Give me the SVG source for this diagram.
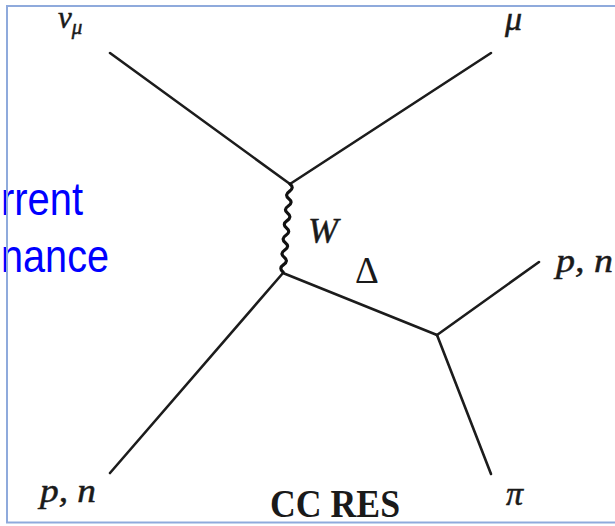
<svg xmlns="http://www.w3.org/2000/svg" width="615" height="526" viewBox="0 0 615 526">
<style>
.ln{stroke:#1c1c1c;stroke-width:2.6;fill:none;stroke-linecap:round}
.wv{stroke:#111;stroke-width:3.2;fill:none;stroke-linecap:round}
.lbl{font-family:"Liberation Serif","DejaVu Serif",serif;font-style:italic;fill:#1a1a1a;stroke:#1a1a1a;stroke-width:0.5}
.up{font-family:"Liberation Serif","DejaVu Serif",serif;fill:#1a1a1a}
.blue{font-family:"Liberation Sans",Arial,sans-serif;font-size:46px;fill:#0000FF}
</style>
<rect x="0" y="0" width="615" height="526" fill="#ffffff"/>
<g id="side-text">
<text class="blue" x="1" y="215" textLength="82" lengthAdjust="spacingAndGlyphs">rrent</text>
<text class="blue" x="1" y="272" textLength="108" lengthAdjust="spacingAndGlyphs">nance</text>
</g>
<g id="title"><text class="up" x="270" y="517" font-size="40" font-weight="bold" textLength="130" lengthAdjust="spacingAndGlyphs">CC RES</text></g>
<rect id="frame" x="7" y="6" width="620" height="516.5" fill="none" stroke="#8FAADC" stroke-width="2"/>
<g id="connectors">
<line class="ln" x1="110" y1="53" x2="290" y2="184"/>
<line class="ln" x1="491" y1="53" x2="290" y2="184"/>
<line class="ln" x1="110" y1="473" x2="283" y2="273"/>
<line class="ln" x1="283" y1="273" x2="437" y2="335"/>
<line class="ln" x1="437" y1="335" x2="539" y2="262"/>
<line class="ln" x1="437" y1="335" x2="491" y2="474"/>
<path class="wv" d="M290,184 q4.7,3.67 -0.58,7.33 t-0.58,7.33 t-0.58,7.33 t-0.58,7.33 t-0.58,7.33 t-0.58,7.33 t-0.58,7.33 t-0.58,7.33 t-0.58,7.33 t-0.58,7.33 t-0.58,7.33 t-0.58,7.33"/>
</g>
<g id="nu-mu"><text class="lbl" x="58" y="28" font-size="31">ν<tspan font-size="21" dy="6">μ</tspan></text></g>
<g id="mu"><text class="lbl" x="505" y="30" font-size="34">μ</text></g>
<g id="pn-out"><text class="lbl" x="556" y="272" font-size="34" textLength="57" lengthAdjust="spacingAndGlyphs">p, n</text></g>
<g id="pn-in"><text class="lbl" x="40" y="502" font-size="33" textLength="56" lengthAdjust="spacingAndGlyphs">p, n</text></g>
<g id="pi"><text class="lbl" x="506" y="505" font-size="34">π</text></g>
<g id="W-label"><text class="lbl" x="308" y="243" font-size="36">W</text></g>
<g id="Delta-label"><text class="up" x="355" y="283" font-size="37">Δ</text></g>
</svg>
